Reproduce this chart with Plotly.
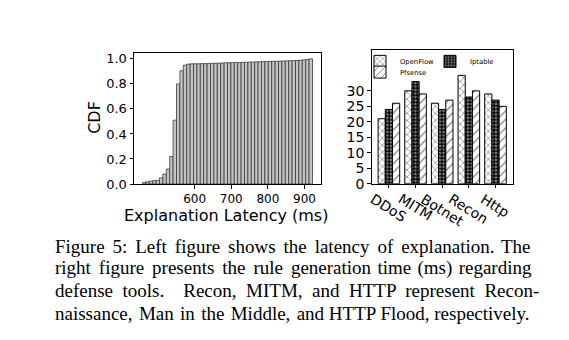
import numpy as np
import plotly.graph_objects as go

# ---- Left panel: cumulative distribution of explanation latency ----
latency_min_ms = 457.7
latency_max_ms = 922.0
n_bins = 50
cdf_values = [
    0.013, 0.018, 0.023, 0.027, 0.029, 0.050, 0.080, 0.120, 0.220, 0.510,
    0.800, 0.905, 0.950, 0.958, 0.960, 0.961, 0.961, 0.962, 0.962, 0.963,
    0.964, 0.965, 0.966, 0.967, 0.968, 0.969, 0.970, 0.970, 0.971, 0.972,
    0.973, 0.974, 0.975, 0.976, 0.977, 0.978, 0.979, 0.980, 0.981, 0.981,
    0.982, 0.983, 0.984, 0.985, 0.986, 0.987, 0.989, 0.992, 0.995, 1.000,
]
latency_ticks = [600, 700, 800, 900]
cdf_ticks = [0.0, 0.2, 0.4, 0.6, 0.8, 1.0]

# ---- Right panel: rule generation time (ms) per defense tool ----
attacks = ["DDoS", "MITM", "Botnet", "Recon", "Http"]
openflow = [21, 30, 26, 35, 29]
iptable = [24, 33, 24, 28, 27]
pfsense = [26, 29, 27, 30, 25]
time_ticks = [0, 5, 10, 15, 20, 25, 30]

caption_lines = [
    "Figure 5: Left figure shows the latency of explanation. The",
    "right figure presents the rule generation time (ms) regarding",
    "defense tools.  Recon, MITM, and HTTP represent Recon-",
    "naissance, Man in the Middle, and HTTP Flood, respectively.",
]
# hair spaces added per line so that the paragraph reads justified
caption_pad = [17, 13, 24, 5]

W, H = 569, 340


def fx(p):
    return p / W


def fy(p):
    return 1 - p / H


def justify(line, n_pad):
    """Spread n_pad hair spaces over the word gaps of a line."""
    words = line.split(" ")
    gaps = len(words) - 1
    out = words[0]
    for g in range(gaps):
        extra = n_pad // gaps + (1 if g < n_pad % gaps else 0)
        out += " " + "\u200a" * extra + words[g + 1]
    return out


edges = np.linspace(latency_min_ms, latency_max_ms, n_bins + 1)
centers = (edges[:-1] + edges[1:]) / 2
bin_w = edges[1] - edges[0]

fig = go.Figure()

fig.add_trace(go.Bar(
    x=centers, y=cdf_values, width=bin_w,
    marker=dict(color="#c4c4c4", line=dict(color="#2a2a2a", width=0.7)),
    xaxis="x", yaxis="y", showlegend=False,
))

bar_w = 0.27
series = [
    ("OpenFlow", openflow, dict(shape="x", size=5, solidity=0.25,
                                fgcolor="black", bgcolor="white"), -bar_w, "legend"),
    ("Iptable", iptable, dict(shape=".", size=3.5, solidity=0.45,
                              fgcolor="white", bgcolor="black"), 0.0, "legend2"),
    ("Pfsense", pfsense, dict(shape="/", size=6, solidity=0.2,
                              fgcolor="black", bgcolor="white"), bar_w, "legend3"),
]
xpos = np.arange(len(attacks))
for name, vals, pat, off, leg in series:
    fig.add_trace(go.Bar(
        x=xpos + off, y=vals, width=bar_w, name=name,
        marker=dict(color="white", pattern=pat,
                    line=dict(color="black", width=1)),
        xaxis="x2", yaxis="y2", legend=leg,
    ))

axis_common = dict(
    showline=True, mirror=True, linecolor="black", linewidth=1,
    ticks="outside", ticklen=3.5, tickcolor="black", tickwidth=1,
    showgrid=False, zeroline=False,
)

tick_font_x = dict(family="DejaVu Sans", size=12, color="black")
tick_font_l = dict(family="DejaVu Sans", size=13, color="black")
tick_font_r = dict(family="DejaVu Sans", size=14, color="black")

fig.update_layout(
    width=W, height=H,
    margin=dict(l=0, r=0, t=0, b=0),
    paper_bgcolor="white", plot_bgcolor="white",
    barmode="overlay",
    xaxis=dict(domain=[fx(134), fx(321)], anchor="y",
               range=[434.5, 945.2], tickvals=latency_ticks,
               tickfont=tick_font_x, **axis_common),
    yaxis=dict(domain=[fy(188), fy(53)], anchor="x",
               range=[0, 1.05], tickvals=cdf_ticks, tickformat=".1f",
               tickfont=tick_font_l, **axis_common),
    xaxis2=dict(domain=[fx(371.7), fx(512.7)], anchor="y2",
                range=[-0.645, 4.645], tickvals=list(xpos),
                showticklabels=False, **axis_common),
    yaxis2=dict(domain=[fy(187.7), fy(50)], anchor="x2",
                range=[0, 43.3], tickvals=time_ticks,
                tickfont=tick_font_r, **axis_common),
    showlegend=True,
)

leg_common = dict(bgcolor="rgba(0,0,0,0)", borderwidth=0,
                  font=dict(family="DejaVu Sans", size=6.8, color="black"),
                  itemwidth=30, xanchor="left", yanchor="middle")
fig.update_layout(
    legend=dict(x=fx(360), y=fy(62), **leg_common),
    legend2=dict(x=fx(430), y=fy(62), **leg_common),
    legend3=dict(x=fx(360), y=fy(73), **leg_common),
)

# axis titles
fig.add_annotation(text="CDF", x=fx(95), y=fy(120), xref="paper", yref="paper",
                   xanchor="center", yanchor="middle",
                   textangle=-90, showarrow=False,
                   font=dict(family="DejaVu Sans", size=16, color="black"))
fig.add_annotation(text="Explanation Latency (ms)", x=fx(226), y=fy(220),
                   xref="paper", yref="paper", xanchor="center",
                   yanchor="middle", showarrow=False,
                   font=dict(family="DejaVu Sans", size=16, color="black"))

# slanted category labels, centred on their ticks
for i, lab in enumerate(attacks):
    fig.add_annotation(text=lab, x=i, xref="x2", y=fy(192), yref="paper",
                       xanchor="center", yanchor="top", textangle=32,
                       showarrow=False,
                       font=dict(family="DejaVu Sans", size=14, color="black"))

# caption
for k, (line, pad) in enumerate(zip(caption_lines, caption_pad)):
    fig.add_annotation(text=justify(line, pad), x=fx(53),
                       y=fy(251.7 + k * 23.0),
                       xref="paper", yref="paper", xanchor="left",
                       yanchor="middle", showarrow=False,
                       font=dict(family="Liberation Serif", size=19,
                                 color="black"))

fig.write_html("out.html")
